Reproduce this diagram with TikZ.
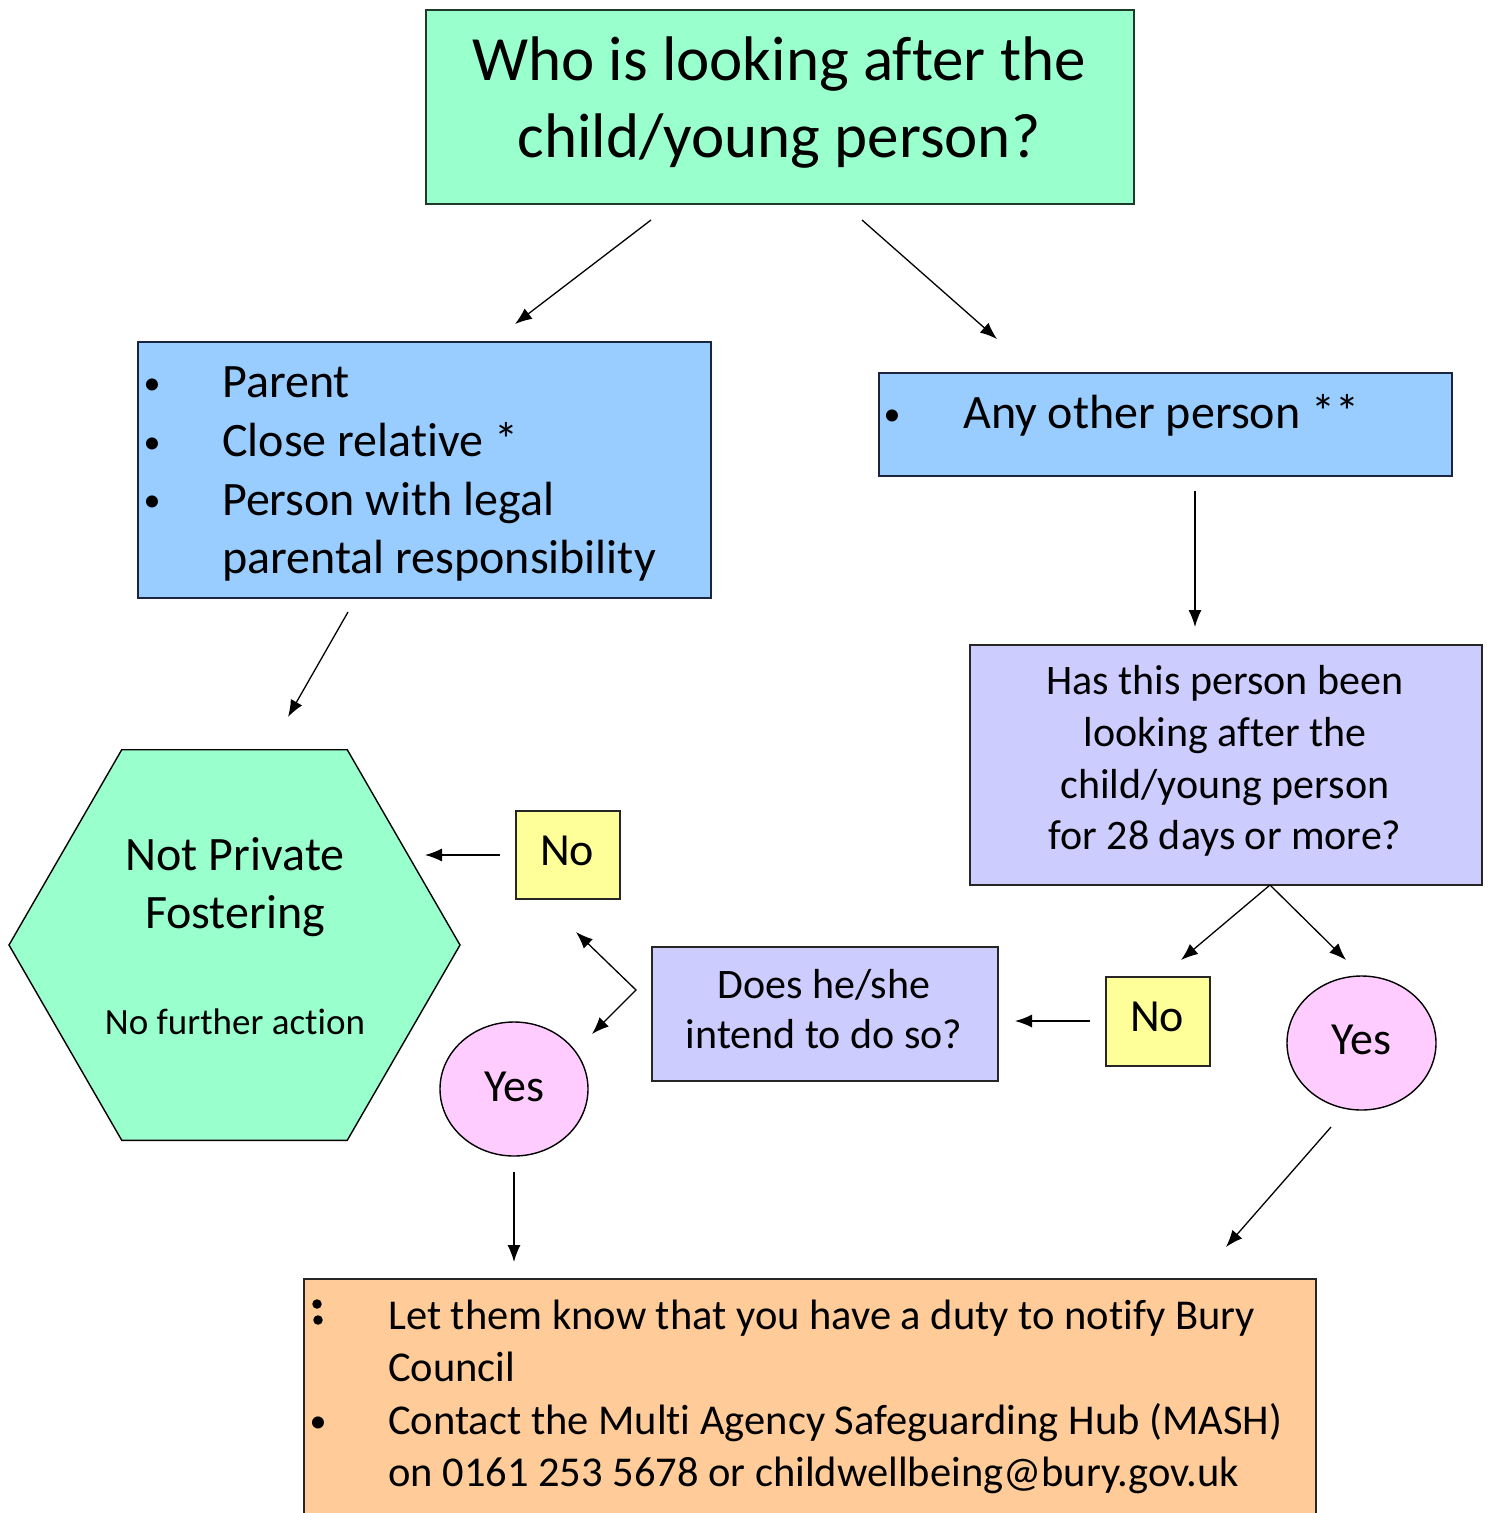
\documentclass[tikz,border=0pt]{standalone}
\usepackage{fontspec}
\setmainfont[Ligatures={NoCommon}]{Carlito}
\usetikzlibrary{shapes.geometric,arrows.meta}
\definecolor{mint}{HTML}{99FFCC}
\definecolor{skyblue}{HTML}{99CCFF}
\definecolor{lavender}{HTML}{CCCCFF}
\definecolor{paleyellow}{HTML}{FFFF99}
\definecolor{palepink}{HTML}{FFCCFF}
\definecolor{peach}{HTML}{FFCC99}
\definecolor{edgegreen}{HTML}{1E3A28}
\definecolor{edgeblue}{HTML}{1C2440}
\newcommand\setfs[2]{\fontsize{#1pt}{#2pt}\selectfont}
\begin{document}
\begin{tikzpicture}[x=1pt,y=-1pt,
  boxshape/.style={draw=#1, line width=1.8pt, inner sep=0pt, anchor=north west},
  arr/.style={-{Latex[length=17pt,width=13pt]}, line width=1.3pt},
  dblarr/.style={{Latex[length=17pt,width=13pt]}-{Latex[length=17pt,width=13pt]}, line width=1.3pt},
  txt/.style={anchor=base, inner sep=0pt},
  txtl/.style={anchor=base west, inner sep=0pt},
  bul/.style={anchor=center, inner sep=0pt, font=\setfs{34}{34}},
  yesnode/.style={ellipse, draw=black, line width=1.4pt, fill=palepink, minimum height=134pt, inner sep=0pt, font=\setfs{46}{50}}]
\useasboundingbox (0,0) rectangle (1493,1513);
\clip (0,0) rectangle (1493,1513);

% top question
\node[boxshape=edgegreen, fill=mint, minimum width=708pt, minimum height=194pt] (top) at (425,9) {};
\node[txt, font=\setfs{63}{77}] (topl1) at (779,80) {Who is looking after the};
\node[txt, font=\setfs{63}{77}] (topl2) at (779,157) {child/young person?};

% left blue box
\node[boxshape=edgeblue, fill=skyblue, minimum width=573pt, minimum height=256pt] (parent) at (137,341) {};
\node[bul] (pb1) at (152,387) {•};
\node[bul] (pb2) at (152,446) {•};
\node[bul] (pb3) at (152,504) {•};
\node[txtl, font=\setfs{48}{59}] (pt1) at (222,397) {Parent};
\node[txtl, font=\setfs{48}{59}] (pt2) at (222,456) {Close relative *};
\node[txtl, font=\setfs{48}{59}] (pt3) at (222,515) {Person with legal};
\node[txtl, font=\setfs{48}{59}] (pt4) at (222,573) {parental responsibility};

% right blue box
\node[boxshape=edgeblue, fill=skyblue, minimum width=573pt, minimum height=103pt] (other) at (878,372) {};
\node[bul] (ob1) at (892,418) {•};
\node[txtl, font=\setfs{48}{59}] (ot1) at (963,428) {Any other person **};

% 28 days question
\node[boxshape=black!85, fill=lavender, minimum width=512pt, minimum height=240pt] (days) at (969,644) {};
\node[txt, font=\setfs{42}{52}] (dl1) at (1225,694) {Has this person been};
\node[txt, font=\setfs{42}{52}] (dl2) at (1225,746) {looking after the};
\node[txt, font=\setfs{42}{52}] (dl3) at (1225,798) {child/young person};
\node[txt, font=\setfs{42}{52}] (dl4) at (1225,849) {for 28 days or more?};

% hexagon
\node[regular polygon, regular polygon sides=6, minimum size=451pt, inner sep=0pt,
      draw=black, line width=1.4pt, fill=mint] (notpf) at (234.5,945) {};
\node[txt, font=\setfs{48}{58}] (h1) at (235,870) {Not Private};
\node[txt, font=\setfs{48}{58}] (h2) at (235,928) {Fostering};
\node[txt, font=\setfs{37}{44}] (h3) at (235,1034) {No further action};

% No boxes
\node[boxshape=black!85, fill=paleyellow, minimum width=104pt, minimum height=88pt] (no1) at (515,810) {};
\node[anchor=center, inner sep=0pt, font=\setfs{46}{50}] (no1t) at (567,851) {No};
\node[boxshape=black!85, fill=paleyellow, minimum width=104pt, minimum height=89pt] (no2) at (1105,976) {};
\node[anchor=center, inner sep=0pt, font=\setfs{46}{50}] (no2t) at (1157,1017) {No};

% Yes ellipses
\node[yesnode, minimum width=148pt] (yes1) at (514,1089) {\raisebox{5pt}{Yes}};
\node[yesnode, minimum width=149pt] (yes2) at (1361.5,1043) {\raisebox{6pt}{Yes}};

% intend question
\node[boxshape=black!85, fill=lavender, minimum width=346pt, minimum height=134pt] (intend) at (651,946) {};
\node[txt, font=\setfs{42}{51}] (il1) at (824,998) {Does he/she};
\node[txt, font=\setfs{42}{51}] (il2) at (824,1048) {intend to do so?};

% bottom action box
\node[boxshape=black!85, fill=peach, minimum width=1012pt, minimum height=260pt] (action) at (303,1278) {};
\node[inner sep=0pt, circle, fill=black, minimum size=9.5pt] (ab0a) at (317,1304) {};
\node[inner sep=0pt, circle, fill=black, minimum size=9.5pt] (ab0b) at (318,1320) {};
\node[bul] (ab2) at (318,1425) {•};
\node[txtl, font=\setfs{42.5}{52.5}] (at1) at (388,1329) {Let them know that you have a duty to notify Bury};
\node[txtl, font=\setfs{42.5}{52.5}] (at2) at (388,1381) {Council};
\node[txtl, font=\setfs{42.5}{52.5}] (at3) at (388,1434) {Contact the Multi Agency Safeguarding Hub (MASH)};
\node[txtl, font=\setfs{42.5}{52.5}] (at4) at (388,1486) {on 0161 253 5678 or childwellbeing@bury.gov.uk};

% connector end points
\coordinate (c1s) at (651,220);  \coordinate (c1e) at (515,324);
\coordinate (c2s) at (862,220);  \coordinate (c2e) at (997,339);
\coordinate (c3s) at (348,612);  \coordinate (c3e) at (288,717);
\coordinate (c4s) at (1195,491); \coordinate (c4e) at (1195,627);
\coordinate (c5s) at (1270,885); \coordinate (c5e) at (1181,960);
\coordinate (c6e) at (1346,960);
\coordinate (c7s) at (1090,1021); \coordinate (c7e) at (1015,1021);
\coordinate (c8s) at (500,855);  \coordinate (c8e) at (425,855);
\coordinate (c9a) at (576,932);  \coordinate (c9m) at (636,990); \coordinate (c9b) at (592,1034);
\coordinate (c10s) at (514,1172); \coordinate (c10e) at (514,1262);
\coordinate (c11s) at (1331,1127); \coordinate (c11e) at (1226,1247);

\draw[arr] (c1s) -- (c1e);
\draw[arr] (c2s) -- (c2e);
\draw[arr] (c3s) -- (c3e);
\draw[arr] (c4s) -- (c4e);
\draw[arr] (c5s) -- (c5e);
\draw[arr] (c5s) -- (c6e);
\draw[arr] (c7s) -- (c7e);
\draw[arr] (c8s) -- (c8e);
\draw[dblarr] (c9a) -- (c9m) -- (c9b);
\draw[arr] (c10s) -- (c10e);
\draw[arr] (c11s) -- (c11e);
\end{tikzpicture}
\end{document}
